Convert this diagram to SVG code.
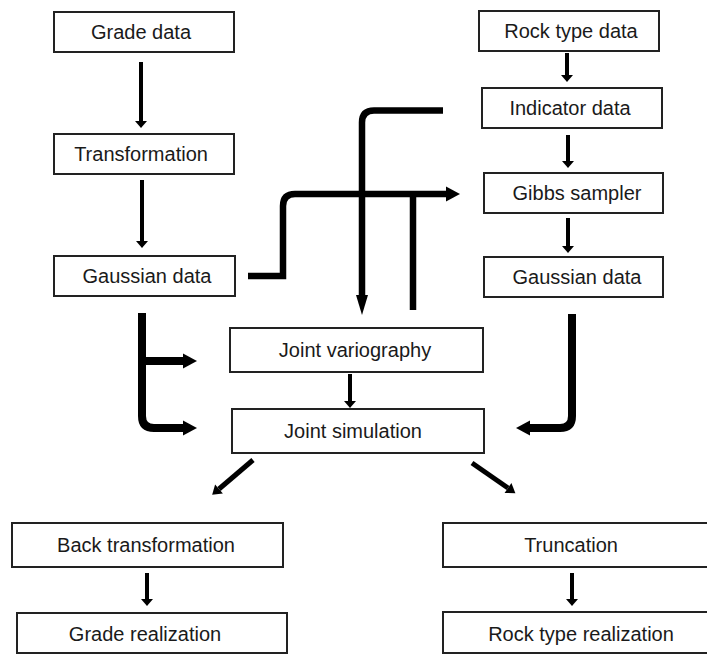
<svg xmlns="http://www.w3.org/2000/svg" width="707" height="655" viewBox="0 0 707 655">
<style>
.box{fill:#fff;stroke:#222;stroke-width:2}
.lbl{font-family:"Liberation Sans",Arial,sans-serif;font-size:20px;fill:#1a1a1a;text-anchor:middle}
.thin{fill:none;stroke:#000;stroke-width:4;marker-end:url(#mThin)}
.thick{fill:none;stroke:#000;stroke-width:6.5;stroke-linejoin:round}
.brk{fill:none;stroke:#000;stroke-width:8;stroke-linejoin:round}
.diag{fill:none;stroke:#000;stroke-width:5;marker-end:url(#mDiag)}
</style>
<defs>
<marker id="mThin" markerUnits="userSpaceOnUse" markerWidth="8" markerHeight="12" refX="0" refY="6" orient="auto" overflow="visible">
<path d="M0,0 L7,6 L0,12 z" fill="#000"/>
</marker>
<marker id="mThick" markerUnits="userSpaceOnUse" markerWidth="14" markerHeight="15" refX="0" refY="7.5" orient="auto" overflow="visible">
<path d="M0,0 L14,7.5 L0,15 z" fill="#000"/>
</marker>
<marker id="mLong" markerUnits="userSpaceOnUse" markerWidth="20" markerHeight="12" refX="0" refY="6" orient="auto" overflow="visible">
<path d="M0,0 L20,6 L0,12 z" fill="#000"/>
</marker>
<marker id="mDiag" markerUnits="userSpaceOnUse" markerWidth="10" markerHeight="12" refX="0" refY="6" orient="auto" overflow="visible">
<path d="M0,0 L9,6 L0,12 z" fill="#000"/>
</marker>
</defs>
<rect width="707" height="655" fill="#fff"/>
<g id="connectors">
<path class="thin" d="M141,62 V121"/>
<path class="thin" d="M142,180 V241"/>
<path class="thin" d="M567,53 V75"/>
<path class="thin" d="M568,135 V161"/>
<path class="thin" d="M568,218 V246"/>
<path class="thin" d="M350,374 V401"/>
<path class="thin" d="M147,573 V599"/>
<path class="thin" d="M572,573 V599"/>
<path class="thick" d="M443,110.5 H374 Q362,110.5 362,122.5 V295" marker-end="url(#mLong)"/>
<path class="thick" style="stroke-linejoin:miter" d="M248,276 H283 V206 Q283,194 295,194 H446" marker-end="url(#mThick)"/>
<path class="thick" d="M413,191 V310"/>
<path class="brk" d="M142,313 V416 Q142,428 154,428 H183" marker-end="url(#mThick)"/>
<path class="brk" d="M142,361 H183" marker-end="url(#mThick)"/>
<path class="brk" d="M572,314 V416 Q572,428 560,428 H530" marker-end="url(#mThick)"/>
<path class="diag" d="M253,460 L219,489"/>
<path class="diag" d="M472,463 L508,488"/>
</g>
<g id="grade-data"><rect class="box" x="54" y="12" width="180" height="40"/><text class="lbl" x="141" y="39">Grade data</text></g>
<g id="transformation"><rect class="box" x="54" y="134" width="180" height="40"/><text class="lbl" x="141" y="161">Transformation</text></g>
<g id="gaussian-data-left"><rect class="box" x="54" y="256" width="181" height="40"/><text class="lbl" x="147" y="283">Gaussian data</text></g>
<g id="rock-type-data"><rect class="box" x="479" y="11" width="180" height="40"/><text class="lbl" x="571" y="38">Rock type data</text></g>
<g id="indicator-data"><rect class="box" x="482" y="88" width="180" height="40"/><text class="lbl" x="570" y="115">Indicator data</text></g>
<g id="gibbs-sampler"><rect class="box" x="484" y="173" width="179" height="40"/><text class="lbl" x="577" y="200">Gibbs sampler</text></g>
<g id="gaussian-data-right"><rect class="box" x="484" y="257" width="179" height="40"/><text class="lbl" x="577" y="284">Gaussian data</text></g>
<g id="joint-variography"><rect class="box" x="230" y="328" width="253" height="44"/><text class="lbl" x="355" y="357">Joint variography</text></g>
<g id="joint-simulation"><rect class="box" x="232" y="409" width="252" height="44"/><text class="lbl" x="353" y="438">Joint simulation</text></g>
<g id="back-transformation"><rect class="box" x="12" y="523" width="271" height="44"/><text class="lbl" x="146" y="552">Back transformation</text></g>
<g id="grade-realization"><rect class="box" x="17" y="613" width="270" height="40"/><text class="lbl" x="145" y="641">Grade realization</text></g>
<g id="truncation"><rect class="box" x="443" y="523" width="280" height="44"/><text class="lbl" x="571" y="552">Truncation</text></g>
<g id="rock-type-realization"><rect class="box" x="443" y="612" width="280" height="41"/><text class="lbl" x="581" y="641">Rock type realization</text></g>
</svg>
